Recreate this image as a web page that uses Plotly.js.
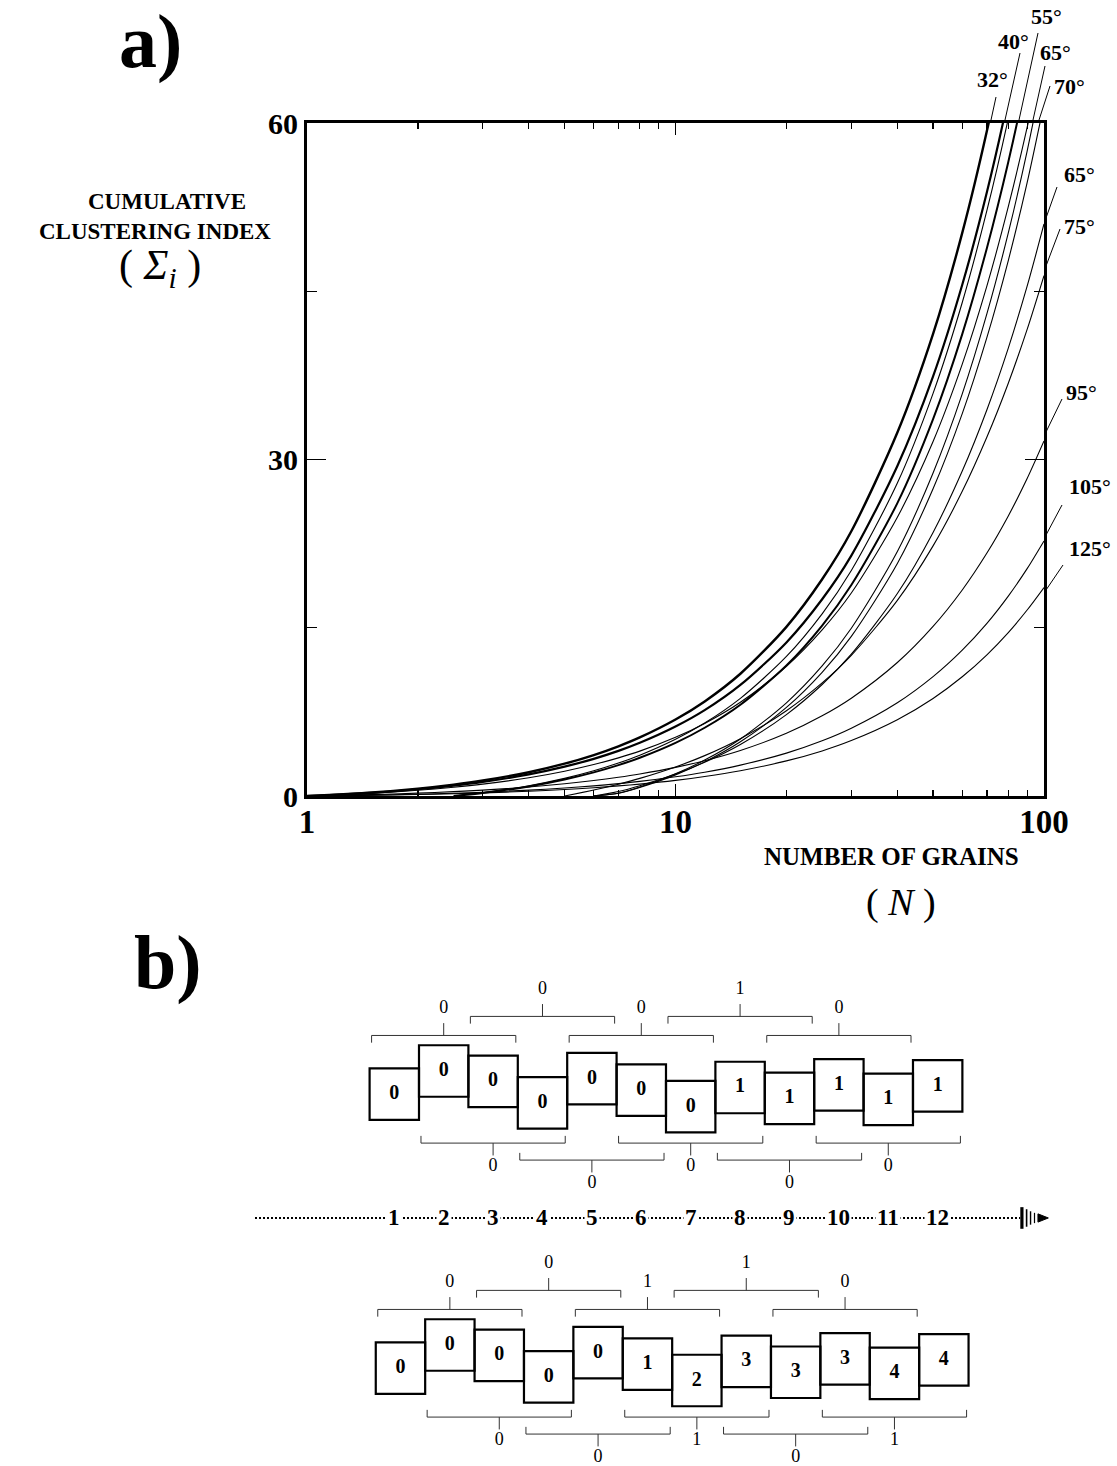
<!DOCTYPE html>
<html><head><meta charset="utf-8">
<script src="https://cdn.plot.ly/plotly-3.0.1.min.js"></script>
<style>html,body{margin:0;padding:0;background:#fff}#chart{width:1117px;height:1466px}</style>
</head><body><div id="chart"></div>
<script>
const W = 1117, H = 1466;

// ---------- panel a) data ----------
const grainCount = [1,1.5,2,2.5,3,4,5,6,7,8,10,12,15,20,25,30,40,50,60,70,80,90,100];
const sig32  = [0,0.316,0.661,1.017,1.38,2.12,2.88,3.65,4.43,5.22,6.82,8.43,10.9,15.08,19.32,23.6,32.4,41.2,50.2,59.3,68.5,77.7,87.0];
const sig40  = [0,0.287,0.600,0.923,1.253,1.925,2.615,3.314,4.022,4.74,6.19,7.65,9.9,13.69,17.54,21.43,29.42,37.41,45.58,53.84,62.2,70.6,79.0];
const sig40b = [null,null,null,0,0.285,0.915,1.574,2.25,2.94,3.64,5.06,6.5,8.7,12.44,16.24,20.1,27.9,35.9,44.0,52.2,60.4,68.7,77.1];
const sig55  = [null,null,null,0,0.267,0.856,1.473,2.106,2.752,3.407,4.736,6.084,8.14,11.64,15.2,18.81,26.11,33.6,41.18,48.86,56.53,64.3,72.2];
const sig55b = [0,0.242,0.507,0.78,1.058,1.626,2.209,2.80,3.40,4.0,5.23,6.47,8.36,11.57,14.82,18.1,24.85,31.6,38.5,45.48,52.54,59.6,66.7];
const sig65  = [null,null,null,null,null,null,null,0,0.251,0.805,1.98,3.2,5.08,8.31,11.6,14.96,21.8,28.8,35.85,43.0,50.2,57.5,64.9];
const sig70  = [null,null,null,null,null,null,null,0,0.239,0.766,1.883,3.043,4.83,7.9,11.03,14.23,20.73,27.39,34.09,40.89,47.74,54.68,61.72];
const sig65r = [null,null,null,null,null,null,null,0,0.40,0.915,1.955,3.0,4.59,7.26,9.94,12.64,18.05,23.5,28.97,34.44,39.93,45.45,51.0];
const sig75  = [null,null,null,null,null,null,0,0.535,1.055,1.57,2.59,3.6,5.11,7.6,10.08,12.54,17.44,22.3,27.16,32.0,36.8,41.6,46.4];
const sig95  = [0,0.123,0.254,0.389,0.526,0.805,1.089,1.376,1.667,1.96,2.55,3.15,4.06,5.59,7.15,8.72,11.9,15.12,18.37,21.66,24.97,28.3,31.65];
const sig105 = [0,0.075,0.159,0.246,0.336,0.521,0.711,0.904,1.10,1.30,1.71,2.12,2.75,3.82,4.92,6.04,8.31,10.64,13.0,15.39,17.82,20.27,22.74];
const sig125 = [0,0.061,0.13,0.201,0.275,0.426,0.581,0.739,0.90,1.063,1.395,1.733,2.25,3.13,4.02,4.94,6.80,8.70,10.63,12.59,14.57,16.58,18.59];

const xTickVals = [1,10,100], xTickText = ['1','10','100'];
const xMinor = [2,3,4,5,6,7,8,9,20,30,40,50,60,70,80,90];
const yTickVals = [0,30,60], yTickText = ['0','30','60'];
const yMinor = [15,45];

const topAngleLabels = ['32°','40°','55°','65°','70°'];
const sideAngleLabels = ['65°','75°','95°','105°','125°'];

// ---------- panel b) data ----------
const grainNo = [1,2,3,4,5,6,7,8,9,10,11,12];
const cellsUpper = [0,0,0,0,0,0,0,1,1,1,1,1];
const cellsLower = [0,0,0,0,0,1,2,3,3,3,4,4];
const grainShift = [-0.08,0.37,0.17,-0.25,0.22,0.0,-0.32,0.05,-0.16,0.10,-0.18,0.08];
const upperAbove = [0,0,0,1,0], upperBelow = [0,0,0,0,0];
const lowerAbove = [0,0,1,1,0], lowerBelow = [0,0,1,0,1];

// ---------- helpers (layout only) ----------
const PX = p => p / W, PY = p => 1 - p / H;
const serif = 'Liberation Serif, Times New Roman, serif';

const curveList = [
  [sig32, 2.4],[sig40, 2.2],[sig40b, 1.1],[sig55, 2.0],[sig55b, 1.1],[sig65, 1.1],
  [sig70, 1.1],[sig65r, 1.1],[sig75, 1.1],[sig95, 1.1],[sig105, 1.1],[sig125, 1.1]
];
const traces = curveList.map(([ys, w]) => ({
  type: 'scatter', mode: 'lines', x: grainCount, y: ys, xaxis: 'x', yaxis: 'y',
  line: {color: '#000', width: w, shape: 'spline', smoothing: 0.8}, connectgaps: false,
  hoverinfo: 'skip'
}));

// panel b geometry
const rows = [
  {yc: 7.30, dx: 0, cells: cellsUpper, above: upperAbove, below: upperBelow},
  {yc: 1.98, dx: 0.125, cells: cellsLower, above: lowerAbove, below: lowerBelow}
];
const shapes = [];
rows.forEach(r => {
  const tx = [], ty = [], tt = [];
  grainNo.forEach((g, i) => {
    const c = r.yc + grainShift[i];
    shapes.push({type: 'rect', xref: 'x2', yref: 'y2', x0: g - 0.5 + r.dx, x1: g + 0.5 + r.dx,
      y0: c - 0.5, y1: c + 0.5, line: {color: '#000', width: 2.2}, fillcolor: 'rgba(0,0,0,0)'});
    tx.push(g + r.dx); ty.push(c); tt.push(String(r.cells[i]));
  });
  traces.push({type: 'scatter', mode: 'text', x: tx, y: ty, text: tt, xaxis: 'x2', yaxis: 'y2',
    textfont: {family: serif, size: 20, color: '#000', weight: 'bold'}, hoverinfo: 'skip'});
  const bx = [], by = [], lx = [], ly = [], lt = [];
  const addBr = (start, yb, dir, val) => {
    const xl = start - 0.5 + 0.04 + r.dx, xr = start + 2.5 - 0.04 + r.dx, xc = start + 1 + r.dx;
    bx.push(xl, xl, xr, xr, null, xc, xc, null);
    by.push(yb - 0.14 * dir, yb, yb, yb - 0.14 * dir, null, yb, yb + 0.24 * dir, null);
    lx.push(xc); ly.push(yb + (dir > 0 ? 0.52 : 0.46) * dir); lt.push(String(val));
  };
  r.above.forEach((v, k) => addBr(1 + 2 * k, r.yc + (k % 2 === 0 ? 1.06 : 1.43), 1, v));
  r.below.forEach((v, k) => addBr(2 + 2 * k, r.yc - (k % 2 === 0 ? 1.03 : 1.36), -1, v));
  traces.push({type: 'scatter', mode: 'lines', x: bx, y: by, xaxis: 'x2', yaxis: 'y2',
    line: {color: '#333', width: 1}, connectgaps: false, hoverinfo: 'skip'});
  traces.push({type: 'scatter', mode: 'text', x: lx, y: ly, text: lt, xaxis: 'x2', yaxis: 'y2',
    textfont: {family: serif, size: 18, color: '#000'}, hoverinfo: 'skip'});
});

// dotted grain axis
const axisY = 4.816;
traces.push({type: 'scatter', mode: 'lines', x: [-1.82, 13.67], y: [axisY, axisY], xaxis: 'x2', yaxis: 'y2',
  line: {color: '#000', width: 2, dash: '2px,2px'}, hoverinfo: 'skip'});
// arrow end
[[13.705, 0.21, 3.2],[13.80, 0.17, 1.6],[13.88, 0.13, 1.4],[13.96, 0.10, 1.2]].forEach(([x, h, w]) => {
  shapes.push({type: 'line', xref: 'x2', yref: 'y2', x0: x, x1: x, y0: axisY - h, y1: axisY + h,
    line: {color: '#000', width: w}});
});
shapes.push({type: 'path', xref: 'x2', yref: 'y2',
  path: `M 14.03 ${axisY - 0.08} L 14.24 ${axisY} L 14.03 ${axisY + 0.08} Z`, fillcolor: '#000', line: {color: '#000', width: 1}});

// curve-label leaders (paper coordinates)
const leaders = [
  [996,97,991,120],[1020,53,1005,120],[1038,33,1019,120],[1045,66,1033,120],[1050,86,1039,120],
  [1057,187,1046,218],[1060,229,1046,266],[1062,399,1046,432],[1062,505,1046,535],[1063,565,1046,590]
];
leaders.forEach(([a, b, c, d]) => shapes.push({type: 'line', xref: 'paper', yref: 'paper',
  x0: PX(a), y0: PY(b), x1: PX(c), y1: PY(d), line: {color: '#000', width: 1}}));

const annotations = [];
const ann = (x, y, text, size, opts = {}) => annotations.push(Object.assign({
  xref: 'paper', yref: 'paper', x: PX(x), y: PY(y), text, showarrow: false,
  xanchor: 'center', yanchor: 'middle',
  font: {family: serif, size, color: '#000', weight: 'bold'}}, opts));

const topPos = [[992,79],[1013,42],[1046,17],[1055,53],[1069,86]];
topAngleLabels.forEach((t, i) => ann(topPos[i][0], topPos[i][1], t, 22));
const sidePos = [[1079,175],[1079,226],[1081,392],[1090,487],[1090,548]];
sideAngleLabels.forEach((t, i) => ann(sidePos[i][0], sidePos[i][1], t, 22));

ann(150, 42, 'a)', 76);
ann(168, 962, 'b)', 76);
ann(167, 201, 'CUMULATIVE', 23);
ann(155, 231, 'CLUSTERING INDEX', 23);
ann(160, 268, '( <i>Σ<sub>i</sub></i> )', 42, {font: {family: serif, size: 42, color: '#000'}});
ann(891, 856, 'NUMBER OF GRAINS', 25);
ann(901, 902, '( <i>N</i> )', 38, {font: {family: serif, size: 38, color: '#000'}});

grainNo.forEach(g => annotations.push({xref: 'x2', yref: 'y2', x: g, y: axisY, text: String(g),
  showarrow: false, bgcolor: '#fff', borderpad: 1,
  font: {family: serif, size: 23, color: '#000', weight: 'bold'}}));

const layout = {
  width: W, height: H, margin: {l: 0, r: 0, t: 0, b: 0},
  paper_bgcolor: '#fff', plot_bgcolor: 'rgba(0,0,0,0)', showlegend: false,
  xaxis: {type: 'log', domain: [307 / W, 1044 / W], range: [0, 2], anchor: 'y',
    showline: true, linewidth: 3, linecolor: '#000', mirror: 'ticks',
    ticks: 'inside', ticklen: 12, tickwidth: 1.6, tickcolor: '#000',
    tickvals: xTickVals, ticktext: xTickText, ticklabelstandoff: -6,
    tickfont: {family: serif, size: 33, color: '#000', weight: 'bold'},
    showgrid: false, zeroline: false,
    minor: {tickvals: xMinor, ticks: 'inside', ticklen: 6, tickwidth: 1.2, tickcolor: '#000', showgrid: false}},
  yaxis: {domain: [1 - 796 / H, 1 - 123 / H], range: [0, 60], anchor: 'x',
    showline: true, linewidth: 3, linecolor: '#000', mirror: 'ticks',
    ticks: 'inside', ticklen: 19, tickwidth: 1.6, tickcolor: '#000',
    tickvals: yTickVals, ticktext: yTickText,
    tickfont: {family: serif, size: 30, color: '#000', weight: 'bold'},
    showgrid: false, zeroline: false,
    minor: {tickvals: yMinor, ticks: 'inside', ticklen: 10, tickwidth: 1.4, tickcolor: '#000', showgrid: false}},
  xaxis2: {domain: [0, 1], range: [-6.982, 15.630], anchor: 'y2', visible: false, fixedrange: true},
  yaxis2: {domain: [0, 1 - 980 / H], range: [0, 9.437], anchor: 'x2', visible: false, fixedrange: true},
  shapes, annotations
};

Plotly.newPlot('chart', traces, layout, {staticPlot: true, displayModeBar: false});
</script>
</body></html>
